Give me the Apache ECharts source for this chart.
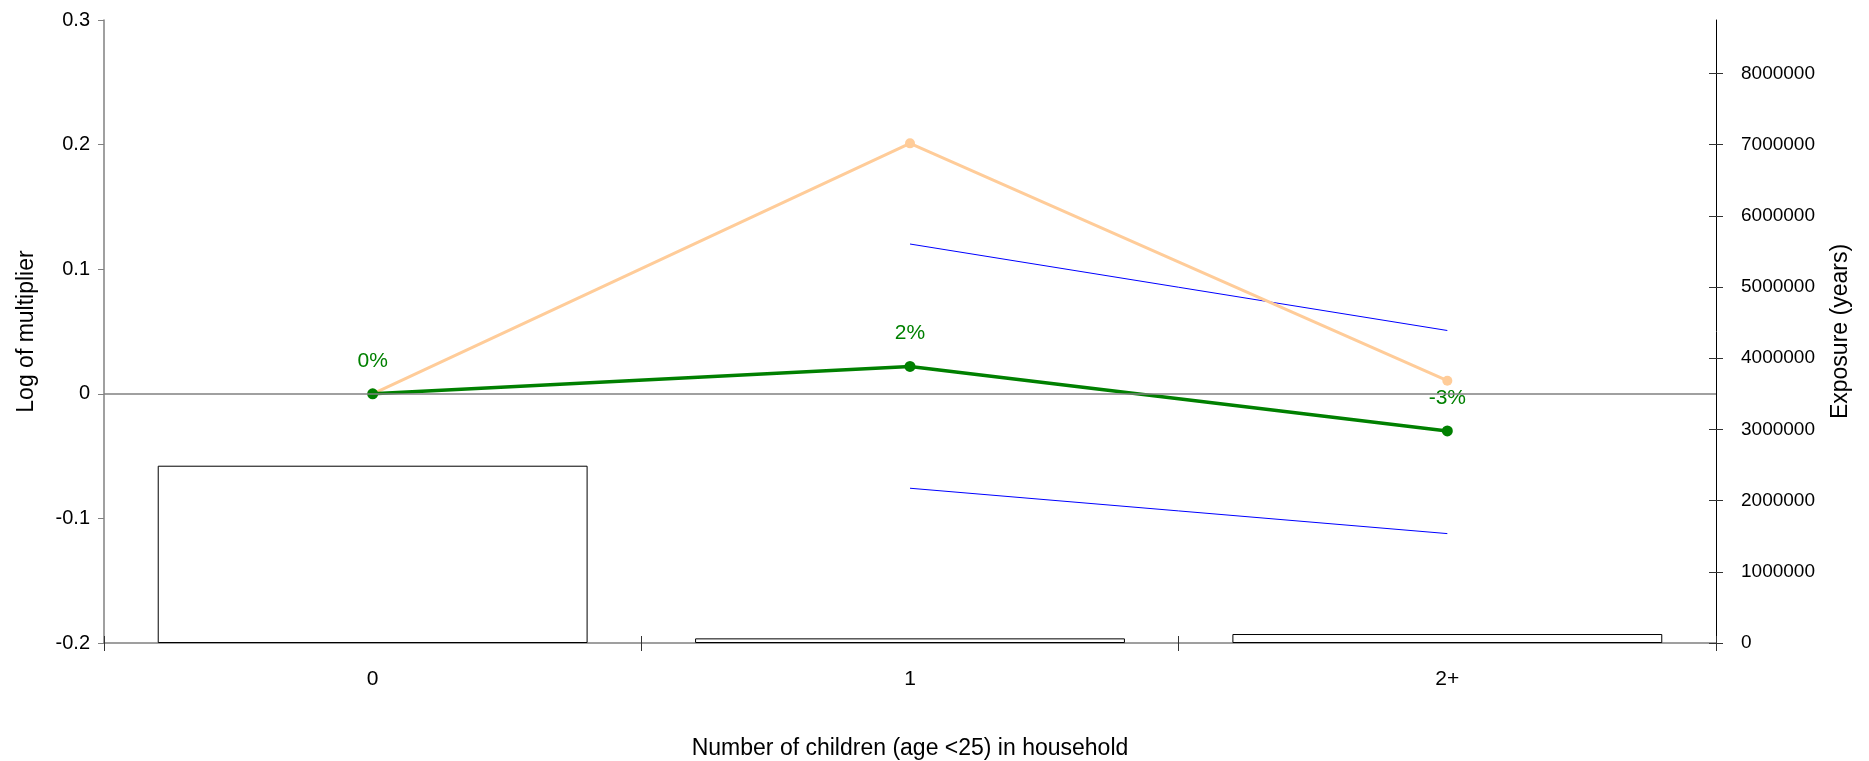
<!DOCTYPE html>
<html>
<head>
<meta charset="utf-8">
<script src="https://cdn.jsdelivr.net/npm/echarts@6/dist/echarts.min.js"></script>
<style>
html, body { margin: 0; padding: 0; background: #fff; }
#chart { width: 1869px; height: 761px; }
</style>
</head>
<body>
<div id="chart"></div>
<script>
var chart = echarts.init(document.getElementById('chart'));

// data
var categories = ['0', '1', '2+'];
var exposure = [2490000, 65000, 126000];        // bars, right axis
var fitted = [0, 0.201, 0.0105];                // orange line
var logMultiplier = [0, 0.022, -0.0298];        // green line
var pctLabels = ['0%', '2%', '-3%'];
var upperBand = [null, 0.1202, 0.0508];          // blue lines
var lowerBand = [null, -0.0758, -0.1122];
var rightTicks = [0, 1000000, 2000000, 3000000, 4000000, 5000000, 6000000, 7000000, 8000000];

var font = 'Liberation Sans, Arial, sans-serif';

var option = {
    backgroundColor: '#fff',
    animation: false,
    textStyle: { fontFamily: font },
    grid: { left: 104, right: 153, top: 20, bottom: 118, outerBoundsMode: 'none', containLabel: false },
    xAxis: [{
        type: 'category',
        data: categories,
        boundaryGap: true,
        name: 'Number of children (age <25) in household',
        nameLocation: 'middle',
        nameGap: 94,
        nameTextStyle: { fontSize: 23, color: '#000', fontFamily: font },
        axisLine: { onZero: false, lineStyle: { color: '#808080', width: 1.5 } },
        axisTick: { show: true, length: 8, lineStyle: { color: '#333' } },
        axisLabel: { fontSize: 21, color: '#000', margin: 26 },
        splitLine: { show: false }
    }, {
        // inner half of the crossing ticks
        type: 'category',
        data: categories,
        position: 'bottom',
        boundaryGap: true,
        axisLine: { show: false, onZero: false },
        axisTick: { show: true, inside: true, length: 7, lineStyle: { color: '#333' } },
        axisLabel: { show: false },
        splitLine: { show: false }
    }],
    yAxis: [{
        type: 'value',
        min: -0.2,
        max: 0.3,
        interval: 0.1,
        name: 'Log of multiplier',
        nameLocation: 'middle',
        nameGap: 66,
        nameTextStyle: { fontSize: 23, color: '#000', fontFamily: font },
        axisLine: { show: true, lineStyle: { color: '#808080', width: 1.5 } },
        axisTick: { show: true, length: 6, lineStyle: { color: '#808080' } },
        axisLabel: { fontSize: 20, color: '#000', margin: 14,
            formatter: function (v) { return Math.round(v * 10) / 10 + ''; } },
        splitLine: { show: false }
    }, {
        type: 'value',
        position: 'right',
        min: 0,
        max: 8750000,
        name: 'Exposure (years)',
        nameLocation: 'middle',
        nameGap: 113,
        nameTextStyle: { fontSize: 23, color: '#000', fontFamily: font },
        axisLine: { show: true, lineStyle: { color: '#000', width: 1 } },
        axisTick: { show: true, length: 7, customValues: rightTicks, lineStyle: { color: '#333' } },
        axisLabel: { fontSize: 19, color: '#000', margin: 25, customValues: rightTicks,
            formatter: function (v) { return String(v); } },
        splitLine: { show: false }
    }, {
        // inner half of crossing ticks on the right axis
        type: 'value',
        position: 'right',
        min: 0,
        max: 8750000,
        axisLine: { show: false },
        axisTick: { show: true, inside: true, length: 7, customValues: rightTicks, lineStyle: { color: '#333' } },
        axisLabel: { show: false },
        splitLine: { show: false }
    }],
    series: [{
        name: 'Exposure',
        type: 'bar',
        yAxisIndex: 1,
        data: exposure,
        barCategoryGap: '20%',
        itemStyle: { color: '#fff', borderColor: '#000', borderWidth: 1 },
        z: 1
    }, {
        name: 'Upper',
        type: 'line',
        data: upperBand,
        symbol: 'none',
        lineStyle: { color: '#0000ff', width: 1 },
        z: 2
    }, {
        name: 'Lower',
        type: 'line',
        data: lowerBand,
        symbol: 'none',
        lineStyle: { color: '#0000ff', width: 1 },
        z: 2
    }, {
        name: 'Fitted',
        type: 'line',
        data: fitted,
        symbol: 'circle',
        symbolSize: 10,
        itemStyle: { color: '#ffcc99' },
        lineStyle: { color: '#ffcc99', width: 3 },
        z: 3
    }, {
        name: 'Log multiplier',
        type: 'line',
        data: logMultiplier,
        symbol: 'circle',
        symbolSize: 11,
        itemStyle: { color: '#008000' },
        lineStyle: { color: '#008000', width: 3.5 },
        label: {
            show: true,
            position: 'top',
            distance: 17,
            fontSize: 21,
            color: '#008000',
            fontFamily: font,
            formatter: function (p) { return pctLabels[p.dataIndex]; }
        },
        markLine: {
            silent: true,
            symbol: 'none',
            label: { show: false },
            lineStyle: { color: '#808080', width: 1.5, type: 'solid' },
            data: [{ yAxis: 0 }]
        },
        z: 4
    }]
};
chart.setOption(option);
</script>
</body>
</html>
